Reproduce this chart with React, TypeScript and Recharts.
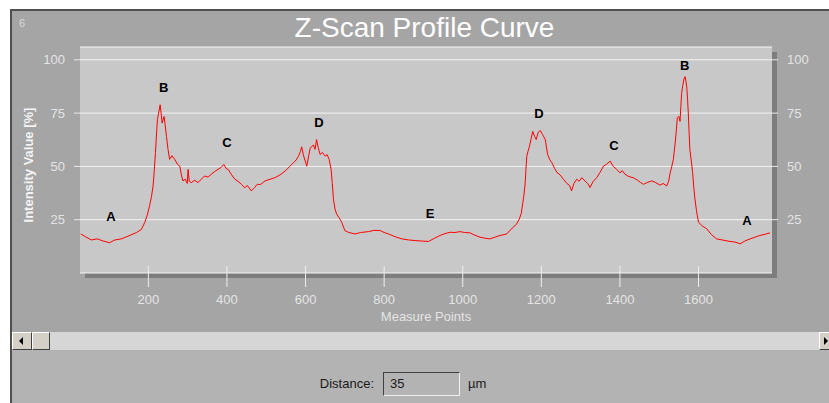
import React from 'react';
import { ComposedChart, Line, Scatter, XAxis, YAxis, CartesianGrid } from 'recharts';

const measurePoints = [
  28, 40, 55, 70, 85, 101, 115, 131, 145, 156, 170, 182, 191, 197, 203, 208, 212, 215, 218, 221,
  223, 226, 230, 233, 235, 240, 243, 246, 250, 254, 260, 267, 274, 280, 284, 288, 294, 299, 301, 304,
  309, 318, 326, 335, 343, 352, 360, 368, 377, 385, 392, 398, 403, 412, 420, 428, 437, 445, 452, 462,
  470, 477, 485, 497, 510, 522, 535, 548, 560, 569, 576, 582, 587, 590, 595, 600, 603, 608, 612, 620,
  624, 628, 632, 637, 643, 650, 655, 660, 665, 668, 671, 675, 679, 685, 692, 700, 710, 726, 740, 760,
  775, 790, 800, 811, 828, 845, 862, 879, 895, 913, 925, 942, 955, 968, 980, 993, 1005, 1019, 1030, 1044,
  1057, 1069, 1082, 1095, 1105, 1112, 1120, 1129, 1137, 1144, 1149, 1153, 1156, 1159, 1161, 1163, 1166, 1170, 1174, 1178,
  1183, 1187, 1192, 1197, 1203, 1210, 1216, 1222, 1227, 1234, 1240, 1248, 1256, 1265, 1272, 1277, 1283, 1290, 1296, 1303,
  1312, 1318, 1324, 1332, 1341, 1349, 1358, 1366, 1375, 1383, 1392, 1400, 1406, 1413, 1420, 1427, 1434, 1445, 1452, 1460,
  1470, 1481, 1490, 1502, 1510, 1519, 1524, 1528, 1532, 1536, 1540, 1543, 1546, 1550, 1553, 1555, 1557, 1560, 1563, 1566,
  1568, 1570, 1572, 1574, 1576, 1578, 1582, 1585, 1588, 1591, 1595, 1600, 1610, 1621, 1633, 1646, 1660, 1680, 1693, 1706,
  1718, 1731, 1744, 1756, 1770, 1782,
];

const intensity = [
  18.3, 17, 15.5, 16, 15, 14.2, 15.5, 16, 17, 17.9, 19, 20.4, 23.8, 27, 31.5, 36, 40.8, 48, 56.4, 66,
  71.9, 75, 78.9, 74, 70.3, 73.4, 69, 64.1, 58, 53.3, 55, 53.3, 51, 50.1, 46, 43.2, 44, 42, 48.6, 43,
  42.4, 43.5, 42.4, 44, 45.5, 45, 46.3, 47.5, 48.6, 49.5, 50.9, 49, 48.6, 46, 44, 43, 41.6, 40, 41, 38.5,
  40, 41.6, 41.5, 43.2, 44, 44.7, 46, 47.8, 50, 51.7, 53, 54.8, 57, 59.2, 55, 52, 50.1, 55, 58.7, 60,
  58, 62.6, 59, 55.6, 56.5, 54.8, 55.5, 53.3, 48.6, 42, 34.6, 30, 27.7, 26, 23.8, 19.9, 19, 18.3, 19, 19.4,
  20, 19.9, 19, 18.3, 17, 16, 15.5, 15.2, 15, 14.8, 16, 17.6, 18.5, 19.1, 19, 19.4, 19, 18.8, 17.8, 16.8,
  16.3, 16, 16.8, 17.6, 18, 18.3, 20, 21.5, 23, 25.3, 28, 33.1, 37, 42.4, 49, 54.8, 57, 59.5, 63, 66.4,
  64, 62.6, 66, 66.9, 65, 62.6, 55.6, 53, 51.7, 49, 47.1, 46, 44, 42, 41, 38.5, 42, 44, 43, 44.7,
  43, 42, 40.1, 43, 44.7, 47.1, 50.1, 51, 52.5, 50, 48.6, 47, 48, 46.3, 45.5, 45, 44.7, 43.5, 42.5, 41.6,
  42.5, 43.2, 42.5, 41.2, 42, 40.8, 43, 47.1, 50, 53.3, 60, 65.7, 72.7, 73.5, 71.1, 78, 84.3, 88, 91, 92.1,
  90, 87.4, 82, 75, 66, 57.9, 52, 47.1, 40, 34.6, 29, 23.8, 22, 20.7, 18, 16, 15.5, 14.8, 14.5, 13.7,
  15, 16, 16.8, 17.6, 18.2, 18.8,
];

const xTicks = [200, 400, 600, 800, 1000, 1200, 1400, 1600];
const yTicks = [25, 50, 75, 100];

const peakNames = ['A', 'B', 'C', 'D', 'E', 'D', 'C', 'B', 'A'];
const peakX = [105, 239, 400, 634, 917, 1194, 1385, 1565, 1723];
const peakY = [26.3, 87.1, 61, 70.6, 27.7, 75, 59.8, 97.5, 24.5];

const lineData = measurePoints.map((x, i) => ({ x, y: intensity[i] }));
const peakData = peakNames.map((label, i) => ({ x: peakX[i], y: peakY[i], label }));

const FONT = '"Liberation Sans", Arial, sans-serif';
const LIGHT = '#e4e4e4';

const XTick = (props: any) => {
  const { x, y, payload } = props;
  return (
    <g>
      <line x1={x} x2={x} y1={y - 7} y2={y + 14} stroke="#eeeeee" strokeWidth={1} />
      <text x={x} y={y + 26} textAnchor="middle" dominantBaseline="central" fill={LIGHT} fontSize={13} fontFamily={FONT}>
        {payload.value}
      </text>
    </g>
  );
};

const PeakLabel = (props: any) => {
  const { cx, cy, payload } = props;
  return (
    <text x={cx} y={cy} textAnchor="middle" dominantBaseline="central" fill="#000" fontSize={13} fontWeight="bold" fontFamily={FONT}>
      {payload.label}
    </text>
  );
};

const YLabel = (props: any) => {
  const vb = props.viewBox || { y: 47, height: 226 };
  const cy = vb.y + vb.height / 2 + 5;
  return (
    <text x={28} y={cy} transform={`rotate(-90 28 ${cy})`} textAnchor="middle" dominantBaseline="central" fill="#f4f4f4" fontSize={13} fontWeight="bold" fontFamily={FONT}>
      Intensity Value [%]
    </text>
  );
};

const raised: React.CSSProperties = {
  position: 'absolute',
  background: '#d4d0c8',
  borderTop: '1px solid #ffffff',
  borderLeft: '1px solid #ffffff',
  borderRight: '1px solid #404040',
  borderBottom: '1px solid #404040',
  boxSizing: 'border-box',
};

export default function App() {
  return (
    <div style={{ position: 'absolute', left: 0, top: 0, width: 829, height: 403, background: '#ffffff', overflow: 'hidden', fontFamily: FONT }}>
      {/* main panel */}
      <div style={{ position: 'absolute', left: 10, top: 9, width: 819, height: 394, background: '#a5a5a5', borderTop: '2px solid #505050', borderLeft: '2px solid #505050', boxSizing: 'border-box' }} />
      {/* lower area */}
      <div style={{ position: 'absolute', left: 12, top: 350, width: 817, height: 53, background: '#b3b3b3' }} />
      {/* scrollbar track */}
      <div style={{ position: 'absolute', left: 12, top: 332, width: 817, height: 18, background: '#d6d6d6' }} />
      <div style={{ ...raised, left: 12, top: 332, width: 20, height: 18 }}>
        <div style={{ position: 'absolute', left: 6, top: 4, width: 0, height: 0, borderTop: '4px solid transparent', borderBottom: '4px solid transparent', borderRight: '4px solid #000' }} />
      </div>
      <div style={{ ...raised, left: 32, top: 332, width: 18, height: 18 }} />
      <div style={{ ...raised, left: 819, top: 332, width: 20, height: 18 }}>
        <div style={{ position: 'absolute', left: 4, top: 4, width: 0, height: 0, borderTop: '4px solid transparent', borderBottom: '4px solid transparent', borderLeft: '4px solid #000' }} />
      </div>
      {/* small index */}
      <div style={{ position: 'absolute', left: 19, top: 17, fontSize: 11, color: '#d8d8d8', lineHeight: '12px' }}>6</div>
      {/* title */}
      <div style={{ position: 'absolute', left: 0, width: 849, top: 13, textAlign: 'center', fontSize: 28, color: '#ffffff', lineHeight: '30px' }}>Z-Scan Profile Curve</div>
      {/* plot shadow */}
      <div style={{ position: 'absolute', left: 85, top: 52, width: 692, height: 226, background: '#7e7e7e' }} />
      {/* chart */}
      <div style={{ position: 'absolute', left: 0, top: 0 }}>
        <ComposedChart width={829} height={403} data={lineData} margin={{ top: 47, right: 0, bottom: 82, left: 0 }}>
          <CartesianGrid vertical={false} horizontal={true} stroke="#f4f4f4" fill="#c8c8c8" fillOpacity={1} />
          <XAxis
            dataKey="x"
            type="number"
            domain={[26, 1787]}
            ticks={xTicks}
            allowDataOverflow
            axisLine={false}
            tickLine={false}
            tickSize={0}
            tickMargin={0}
            height={48}
            tick={<XTick />}
            interval={0}
            label={{ value: 'Measure Points', position: 'insideBottom', offset: 0, fill: LIGHT, fontSize: 13, fontFamily: FONT }}
          />
          <YAxis
            type="number"
            domain={[0, 106]}
            ticks={yTicks}
            allowDataOverflow
            width={80}
            axisLine={false}
            tickLine={{ stroke: '#e8e8e8' }}
            tickSize={6}
            tickMargin={9}
            tick={{ fill: LIGHT, fontSize: 13, fontFamily: FONT }}
            interval={0}
            label={<YLabel />}
          />
          <YAxis
            yAxisId="r"
            orientation="right"
            type="number"
            domain={[0, 106]}
            ticks={yTicks}
            allowDataOverflow
            width={57}
            axisLine={false}
            tickLine={{ stroke: '#e8e8e8' }}
            tickSize={6}
            tickMargin={9}
            tick={{ fill: LIGHT, fontSize: 13, fontFamily: FONT }}
            interval={0}
          />
          <Line dataKey="y" type="linear" stroke="#ff0000" strokeWidth={1} dot={false} activeDot={false} isAnimationActive={false} />
          <Scatter data={peakData} dataKey="y" shape={<PeakLabel />} isAnimationActive={false} />
        </ComposedChart>
      </div>
      {/* distance */}
      <div style={{ position: 'absolute', left: 300, width: 74, top: 376, textAlign: 'right', fontSize: 13, color: '#1a1a1a', lineHeight: '15px' }}>Distance:</div>
      <div style={{ position: 'absolute', left: 383, top: 372, width: 77, height: 24, background: '#b3b3b3', borderTop: '1px solid #404040', borderLeft: '1px solid #404040', borderRight: '1px solid #f0f0f0', borderBottom: '1px solid #f0f0f0', boxSizing: 'border-box' }}>
        <div style={{ position: 'absolute', left: 6, top: 3, fontSize: 13, color: '#1a1a1a', lineHeight: '15px' }}>35</div>
      </div>
      <div style={{ position: 'absolute', left: 468, top: 376, fontSize: 13, color: '#1a1a1a', lineHeight: '15px' }}>µm</div>
    </div>
  );
}
